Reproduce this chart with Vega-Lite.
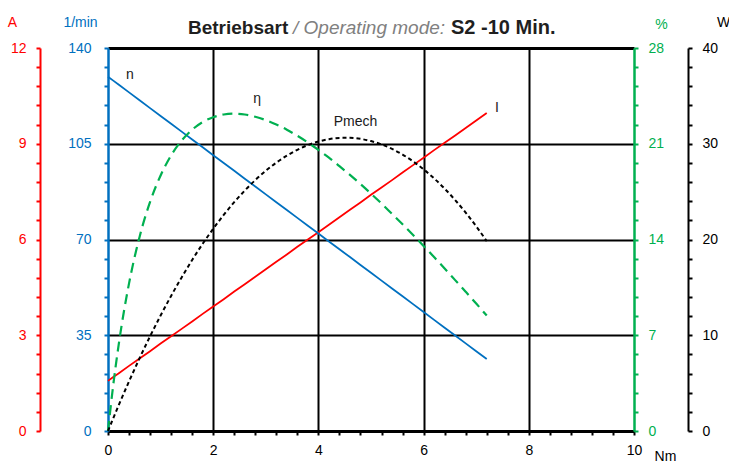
{
  "$schema": "https://vega.github.io/schema/vega-lite/v6.json",
  "width": 526,
  "height": 383,
  "autosize": {"type": "none"},
  "padding": {"left": 108, "top": 48, "right": 95, "bottom": 32},
  "background": "white",
  "config": {
    "view": {"stroke": null},
    "axis": {
      "labelFont": "Liberation Sans",
      "labelFontSize": 14,
      "titleFont": "Liberation Sans",
      "titleFontSize": 14,
      "titleFontWeight": "normal",
      "labelFlush": false,
      "labelOverlap": false,
      "tickSize": 4,
      "tickWidth": 2,
      "domainWidth": 2,
      "tickCount": 100
    },
    "text": {"font": "Liberation Sans"}
  },
  "data": {
    "values": [
      {"T": 0, "n": 129.5, "I": 1.57, "P": 0, "eta": 0},
      {"T": 0.1, "n": 128.07, "I": 1.69, "P": 1.34, "eta": 3.37},
      {"T": 0.2, "n": 126.63, "I": 1.8, "P": 2.65, "eta": 6.23},
      {"T": 0.4, "n": 123.77, "I": 2.04, "P": 5.18, "eta": 10.79},
      {"T": 0.6, "n": 120.9, "I": 2.27, "P": 7.6, "eta": 14.19},
      {"T": 0.8, "n": 118.03, "I": 2.5, "P": 9.89, "eta": 16.75},
      {"T": 1.0, "n": 115.17, "I": 2.74, "P": 12.06, "eta": 18.68},
      {"T": 1.2, "n": 112.3, "I": 2.97, "P": 14.11, "eta": 20.15},
      {"T": 1.4, "n": 109.43, "I": 3.2, "P": 16.04, "eta": 21.23},
      {"T": 1.6, "n": 106.57, "I": 3.43, "P": 17.86, "eta": 22.03},
      {"T": 1.8, "n": 103.7, "I": 3.67, "P": 19.55, "eta": 22.59},
      {"T": 2.0, "n": 100.83, "I": 3.9, "P": 21.12, "eta": 22.94},
      {"T": 2.2, "n": 97.97, "I": 4.13, "P": 22.57, "eta": 23.14},
      {"T": 2.4, "n": 95.1, "I": 4.37, "P": 23.9, "eta": 23.2},
      {"T": 2.6, "n": 92.23, "I": 4.6, "P": 25.11, "eta": 23.14},
      {"T": 2.8, "n": 89.37, "I": 4.83, "P": 26.2, "eta": 22.97},
      {"T": 3.0, "n": 86.5, "I": 5.07, "P": 27.18, "eta": 22.73},
      {"T": 3.2, "n": 83.63, "I": 5.3, "P": 28.03, "eta": 22.41},
      {"T": 3.4, "n": 80.77, "I": 5.53, "P": 28.76, "eta": 22.03},
      {"T": 3.6, "n": 77.9, "I": 5.77, "P": 29.37, "eta": 21.58},
      {"T": 3.8, "n": 75.03, "I": 6.0, "P": 29.86, "eta": 21.09},
      {"T": 4.0, "n": 72.17, "I": 6.23, "P": 30.23, "eta": 20.55},
      {"T": 4.2, "n": 69.3, "I": 6.46, "P": 30.48, "eta": 19.98},
      {"T": 4.4, "n": 66.43, "I": 6.7, "P": 30.61, "eta": 19.36},
      {"T": 4.6, "n": 63.57, "I": 6.93, "P": 30.62, "eta": 18.72},
      {"T": 4.8, "n": 60.7, "I": 7.16, "P": 30.51, "eta": 18.05},
      {"T": 5.0, "n": 57.83, "I": 7.4, "P": 30.28, "eta": 17.35},
      {"T": 5.2, "n": 54.97, "I": 7.63, "P": 29.93, "eta": 16.63},
      {"T": 5.4, "n": 52.1, "I": 7.86, "P": 29.46, "eta": 15.87},
      {"T": 5.6, "n": 49.23, "I": 8.1, "P": 28.87, "eta": 15.11},
      {"T": 5.8, "n": 46.37, "I": 8.33, "P": 28.16, "eta": 14.33},
      {"T": 6.0, "n": 43.5, "I": 8.56, "P": 27.33, "eta": 13.53},
      {"T": 6.2, "n": 40.63, "I": 8.8, "P": 26.38, "eta": 12.71},
      {"T": 6.4, "n": 37.77, "I": 9.03, "P": 25.31, "eta": 11.88},
      {"T": 6.6, "n": 34.9, "I": 9.26, "P": 24.12, "eta": 11.03},
      {"T": 6.8, "n": 32.03, "I": 9.49, "P": 22.81, "eta": 10.18},
      {"T": 7.0, "n": 29.17, "I": 9.73, "P": 21.38, "eta": 9.32},
      {"T": 7.2, "n": 26.3, "I": 9.96, "P": 19.83, "eta": 8.44}
    ]
  },
  "layer": [
    {
      "mark": {"type": "line", "color": "#FF0000", "strokeWidth": 1.8},
      "encoding": {
        "x": {
          "field": "T", "type": "quantitative",
          "scale": {"domain": [0, 10], "nice": false, "zero": false},
          "axis": {
            "values": [0, 0.4, 0.8, 1.2, 1.6, 2, 2.4, 2.8, 3.2, 3.6, 4, 4.4, 4.8, 5.2, 5.6, 6, 6.4, 6.8, 7.2, 7.6, 8, 8.4, 8.8, 9.2, 9.6, 10],
            "tickCount": 100,
            "labelOverlap": false,
            "labelExpr": "datum.value % 2 == 0 ? format(datum.value, 'd') : ''",
            "title": "Nm",
            "titleX": 557, "titleY": 29,
            "titleAlign": "center", "titleBaseline": "alphabetic",
            "titleColor": "black",
            "domainColor": "black", "domainWidth": 3,
            "tickColor": "black",
            "labelColor": "black",
            "labelPadding": 8,
            "grid": true,
            "gridColor": "black",
            "gridWidth": 2,
            "gridOpacity": {"condition": {"test": "datum.value % 2 == 0 && datum.value > 0 && datum.value < 10", "value": 1}, "value": 0}
          }
        },
        "y": {
          "field": "I", "type": "quantitative",
          "scale": {"domain": [0, 12], "nice": false, "zero": false},
          "axis": {
            "orient": "left", "offset": 68,
            "values": [0, 0.6, 1.2, 1.8, 2.4, 3, 3.6, 4.2, 4.8, 5.4, 6, 6.6, 7.2, 7.8, 8.4, 9, 9.6, 10.2, 10.8, 11.4, 12],
            "tickCount": 100,
            "labelOverlap": false,
            "labelExpr": "datum.value % 3 == 0 ? format(datum.value, 'd') : ''",
            "domainColor": "#FF0000", "tickColor": "#FF0000", "labelColor": "#FF0000",
            "labelPadding": 10,
            "title": "A", "titleColor": "#FF0000", "titleAngle": 0,
            "titleX": -28, "titleY": -22, "titleAlign": "center", "titleBaseline": "alphabetic",
            "grid": false
          }
        }
      }
    },
    {
      "layer": [
        {
          "mark": {"type": "line", "color": "#0070C0", "strokeWidth": 1.8},
          "encoding": {
            "x": {"field": "T", "type": "quantitative"},
            "y": {
              "field": "n", "type": "quantitative",
              "scale": {"domain": [0, 140], "nice": false, "zero": false},
              "axis": {
                "orient": "left", "offset": 0,
                "values": [0, 7, 14, 21, 28, 35, 42, 49, 56, 63, 70, 77, 84, 91, 98, 105, 112, 119, 126, 133, 140],
                "tickCount": 100,
                "labelOverlap": false,
                "labelExpr": "datum.value % 35 == 0 ? format(datum.value, 'd') : ''",
                "domainColor": "#0070C0", "domainWidth": 2.5, "tickColor": "#0070C0", "labelColor": "#0070C0",
                "labelPadding": 13,
                "title": "1/min", "titleColor": "#0070C0", "titleAngle": 0,
                "titleX": -28, "titleY": -21.5, "titleAlign": "center", "titleBaseline": "alphabetic",
                "grid": true,
                "gridColor": "black",
                "gridWidth": {"condition": {"test": "datum.value == 140", "value": 3}, "value": 2},
                "gridOpacity": {"condition": {"test": "datum.value % 35 == 0 && datum.value > 0", "value": 1}, "value": 0}
              }
            }
          }
        },
        {
          "data": {
            "values": [
              {"label": "n", "T": 0.418, "v": 128.7},
              {"label": "η", "T": 2.833, "v": 119.9},
              {"label": "Pmech", "T": 4.705, "v": 111.6},
              {"label": "I", "T": 7.395, "v": 116.7}
            ]
          },
          "mark": {"type": "text", "fontSize": 14, "color": "#1a1a1a", "align": "center", "baseline": "alphabetic"},
          "encoding": {
            "x": {"field": "T", "type": "quantitative"},
            "y": {"field": "v", "type": "quantitative"},
            "text": {"field": "label"}
          }
        },
        {
          "data": {"values": [{"label": "Betriebsart"}]},
          "mark": {"type": "text", "fontSize": 19, "fontWeight": "bold", "color": "#1f1f1f", "align": "left", "baseline": "alphabetic"},
          "encoding": {
            "x": {"datum": 1.521, "type": "quantitative"},
            "y": {"datum": 145.1, "type": "quantitative"},
            "text": {"field": "label"}
          }
        },
        {
          "data": {"values": [{"label": "/ Operating mode:"}]},
          "mark": {"type": "text", "fontSize": 19, "fontStyle": "italic", "color": "#808080", "align": "left", "baseline": "alphabetic"},
          "encoding": {
            "x": {"datum": 3.517, "type": "quantitative"},
            "y": {"datum": 145.1, "type": "quantitative"},
            "text": {"field": "label"}
          }
        },
        {
          "data": {"values": [{"label": "S2 -10 Min."}]},
          "mark": {"type": "text", "fontSize": 20, "fontWeight": "bold", "color": "#1f1f1f", "align": "left", "baseline": "alphabetic"},
          "encoding": {
            "x": {"datum": 6.521, "type": "quantitative"},
            "y": {"datum": 145.1, "type": "quantitative"},
            "text": {"field": "label"}
          }
        }
      ]
    },
    {
      "mark": {"type": "line", "color": "#00B050", "strokeWidth": 2.2, "strokeDash": [10, 6], "interpolate": "monotone"},
      "encoding": {
        "x": {"field": "T", "type": "quantitative"},
        "y": {
          "field": "eta", "type": "quantitative",
          "scale": {"domain": [0, 28], "nice": false, "zero": false},
          "axis": {
            "orient": "right", "offset": 0,
            "values": [0, 1.4, 2.8, 4.2, 5.6, 7, 8.4, 9.8, 11.2, 12.6, 14, 15.4, 16.8, 18.2, 19.6, 21, 22.4, 23.8, 25.2, 26.6, 28],
            "tickCount": 100,
            "labelOverlap": false,
            "labelExpr": "datum.value % 7 == 0 ? format(datum.value, 'd') : ''",
            "domainColor": "#00B050", "domainWidth": 2.5, "tickColor": "#00B050", "labelColor": "#00B050",
            "labelPadding": 10,
            "title": "%", "titleColor": "#00B050", "titleAngle": 0,
            "titleX": 27, "titleY": -20, "titleAlign": "center", "titleBaseline": "alphabetic",
            "grid": false
          }
        }
      }
    },
    {
      "mark": {"type": "line", "color": "black", "strokeWidth": 2, "strokeDash": [4, 3], "interpolate": "monotone"},
      "encoding": {
        "x": {"field": "T", "type": "quantitative"},
        "y": {
          "field": "P", "type": "quantitative",
          "scale": {"domain": [0, 40], "nice": false, "zero": false},
          "axis": {
            "orient": "right", "offset": 54,
            "values": [0, 2, 4, 6, 8, 10, 12, 14, 16, 18, 20, 22, 24, 26, 28, 30, 32, 34, 36, 38, 40],
            "tickCount": 100,
            "labelOverlap": false,
            "labelExpr": "datum.value % 10 == 0 ? format(datum.value, 'd') : ''",
            "domainColor": "black", "tickColor": "black", "labelColor": "black",
            "labelPadding": 10,
            "title": "W", "titleColor": "black", "titleAngle": 0,
            "titleX": 35, "titleY": -22, "titleAlign": "center", "titleBaseline": "alphabetic",
            "grid": false
          }
        }
      }
    }
  ],
  "resolve": {"scale": {"y": "independent"}}
}
